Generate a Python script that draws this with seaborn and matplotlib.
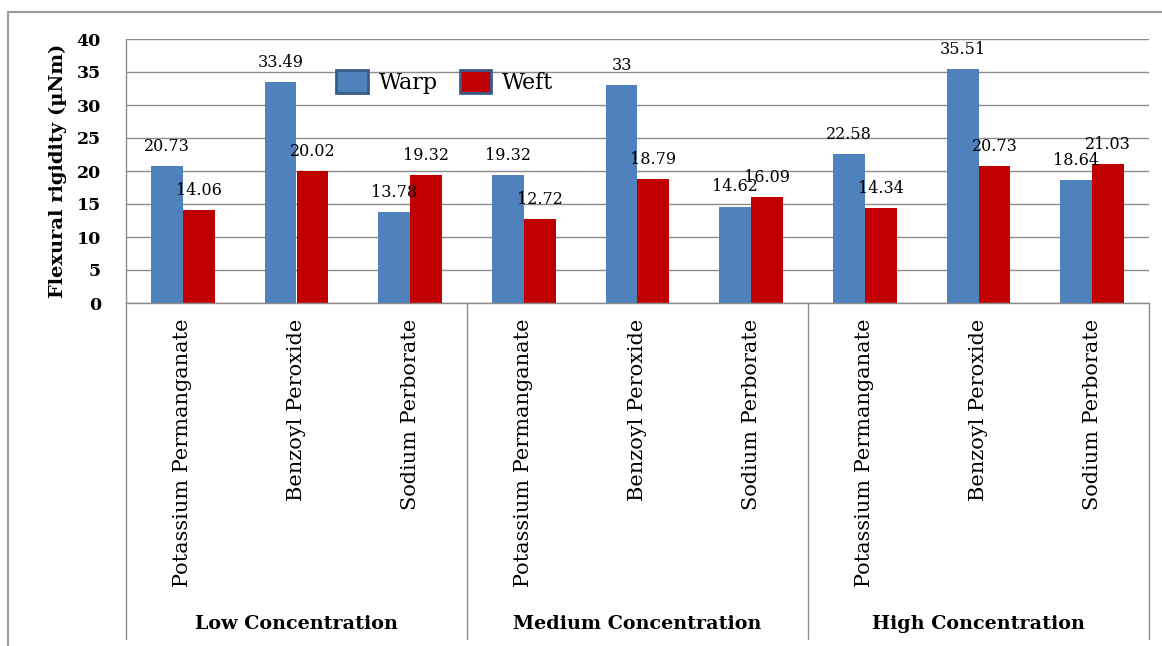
import matplotlib
matplotlib.use("Agg")
import matplotlib.pyplot as plt
import matplotlib.transforms as mtransforms
from matplotlib.lines import Line2D
from matplotlib.patches import Patch
import seaborn as sns
import pandas as pd

# ---- data -------------------------------------------------------------
concentrations = ["Low Concentration", "Medium Concentration", "High Concentration"]
agents = ["Potassium Permanganate", "Benzoyl Peroxide", "Sodium Perborate"]
warp = [20.73, 33.49, 13.78, 19.32, 33.00, 14.62, 22.58, 35.51, 18.64]
weft = [14.06, 20.02, 19.32, 12.72, 18.79, 16.09, 14.34, 20.73, 21.03]
warp_labels = ["20.73", "33.49", "13.78", "19.32", "33", "14.62", "22.58", "35.51", "18.64"]
weft_labels = ["14.06", "20.02", "19.32", "12.72", "18.79", "16.09", "14.34", "20.73", "21.03"]
y_ticks = [0, 5, 10, 15, 20, 25, 30, 35, 40]

keys = [f"{c}|{a}" for c in concentrations for a in agents]
df = pd.DataFrame({
    "key": keys * 2,
    "value": warp + weft,
    "series": ["Warp"] * len(keys) + ["Weft"] * len(keys),
})

BLUE = "#4F81BD"
RED = "#C00000"
GRID = "#8C8C8C"
SERIF = "DejaVu Serif"
INK = "black"

sns.set_theme(style="white")
plt.rcParams["font.family"] = [SERIF, "DejaVu Sans"]
plt.rcParams["text.color"] = INK
plt.rcParams["axes.labelcolor"] = INK
plt.rcParams["xtick.color"] = INK
plt.rcParams["ytick.color"] = INK

W, H = 1162, 646
fig = plt.figure(figsize=(W / 100, H / 100), dpi=100)
ax = fig.add_axes([126 / W, 1 - 303 / H, (1149 - 126) / W, (303 - 39) / H])

sns.barplot(data=df, x="key", y="value", hue="series", order=keys,
            hue_order=["Warp", "Weft"], palette=[BLUE, RED], width=0.56,
            saturation=1, ax=ax, legend=False, errorbar=None, linewidth=0)

for cont, labels in zip(ax.containers, [warp_labels, weft_labels]):
    ax.bar_label(cont, labels=labels, padding=8, fontsize=11.5,
                 family=SERIF, color=INK)

ax.set_ylim(0, 40)
ax.set_xlim(-0.5, len(keys) - 0.5)
ax.set_yticks(y_ticks)
ax.set_yticklabels([str(t) for t in y_ticks], fontsize=12.5, fontweight="bold")
ax.yaxis.grid(True, color=GRID, linewidth=1)
ax.set_axisbelow(True)
ax.set_xticks(range(len(keys)))
ax.set_xticklabels([k.split("|")[1] for k in keys], rotation=90, fontsize=15)
ax.tick_params(axis="x", length=0, pad=11)
ax.tick_params(axis="y", length=0, pad=18)
ax.set_xlabel("")
ax.set_ylabel("Flexural rigidity (µNm)", fontsize=14, fontweight="bold", labelpad=7)

for side in ["top", "right"]:
    ax.spines[side].set_visible(False)
for side in ["left", "bottom"]:
    ax.spines[side].set_color(GRID)
    ax.spines[side].set_linewidth(1)

# group labels and separators below the axis
trans = mtransforms.blended_transform_factory(ax.transData, fig.transFigure)
for i, name in enumerate(concentrations):
    ax.text(3 * i + 1, 1 - 624 / H, name, transform=trans, ha="center",
            va="center", fontsize=13.8, fontweight="bold", clip_on=False)
for xs in [-0.5, 2.5, 5.5, 8.5]:
    ax.add_line(Line2D([xs, xs], [1 - 303 / H, 1 - 639 / H], transform=trans,
                       color=GRID, linewidth=1, clip_on=False))

# outer chart border
fig.add_artist(Line2D([8 / W, 8 / W], [1 - 12 / H, 0], transform=fig.transFigure,
                      color="#9A9A9A", linewidth=1.5))
fig.add_artist(Line2D([8 / W, 1], [1 - 12 / H, 1 - 12 / H], transform=fig.transFigure,
                      color="#9A9A9A", linewidth=1.5))

handles = [Patch(facecolor=BLUE, edgecolor="#385D8A", linewidth=2, label="Warp"),
           Patch(facecolor=RED, edgecolor="#385D8A", linewidth=2, label="Weft")]
fig.legend(handles=handles, loc="center", bbox_to_anchor=(445 / W, 1 - 82 / H),
           ncol=2, frameon=False, fontsize=16, handlelength=1.4, handleheight=1.2,
           handletextpad=0.5, columnspacing=1.0, labelcolor=INK)

fig.savefig("out.png", dpi=100, facecolor="white")
